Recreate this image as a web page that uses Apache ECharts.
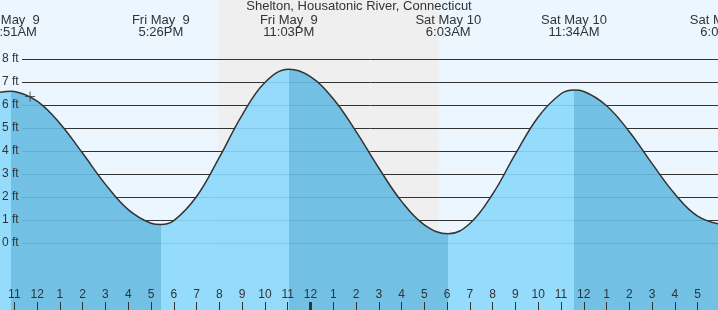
<!DOCTYPE html>
<html lang="en">
<head>
    <meta charset="UTF-8">
    <title>Shelton, Housatonic River, Connecticut</title>
    <style>
        html, body { margin: 0; padding: 0; }
        #container { width: 718px; height: 310px; }
    </style>
</head>
<body>
    <div id="container"></div>
    <script src="https://cdn.jsdelivr.net/npm/echarts@6/dist/echarts.min.js"></script>
    <script>
        // hours counted from Fri May 9 00:00, heights in feet
        const tideHours = [10.37, 10.85, 11, 12, 13, 14, 15, 16, 17, 17.43, 18, 19, 20, 21, 22, 23.05,
            24, 25, 26, 27, 28, 29, 30.05, 31, 32, 33, 34, 35, 35.57, 36, 37, 38, 39, 40, 41, 42.1];
        const tideFeet = [6.55, 6.6, 6.59, 6.17, 5.2, 3.9, 2.55, 1.45, 0.86, 0.8, 0.97, 2.02, 3.72, 5.56, 6.98, 7.55,
            7.23, 6.27, 4.85, 3.26, 1.81, 0.79, 0.4, 0.85, 2.13, 3.87, 5.48, 6.49, 6.65, 6.59, 5.97, 4.84, 3.45, 2.13, 1.17, 0.8];

        // high / low tides
        const extremeHours = [10.85, 17.43, 23.05, 30.05, 35.57, 42.1];
        const extremeFeet = [6.6, 0.8, 7.55, 0.4, 6.65, 0.8];
        const extremeDays = ['Fri May  9', 'Fri May  9', 'Fri May  9', 'Sat May 10', 'Sat May 10', 'Sat May 10'];
        const extremeTimes = ['10:51AM', '5:26PM', '11:03PM', '6:03AM', '11:34AM', '6:06PM'];

        const nightStart = 19.95, nightEnd = 29.65;
        const nowHour = 11.69, nowFeet = 6.37;

        const hourTicks = [];
        for (let h = 11; h <= 41; h++) hourTicks.push(h);
        const midnight = 24;
        const feetTicks = [0, 1, 2, 3, 4, 5, 6, 7, 8];

        // axis extents (chosen so the plot fills the whole picture)
        const xMin = 10.37, xMax = 42.2;
        const yMin = -67 / 23, yMax = 243 / 23;
        const gridStartHour = 11.336;   // horizontal lines start right of the "ft" labels

        const text = '#333';
        const font = 'Liberation Sans';

        // rising tide = light, falling tide = dark
        const pieces = [];
        for (let i = 0; i <= extremeHours.length; i++) {
            const lo = i === 0 ? -Infinity : extremeHours[i - 1];
            const hi = i === extremeHours.length ? Infinity : extremeHours[i];
            let falling;
            if (i === 0) falling = false;
            else if (i === extremeHours.length) falling = extremeFeet[i - 1] > 4;
            else falling = extremeFeet[i] < extremeFeet[i - 1];
            const p = { color: falling ? '#65bbe2' : '#8cd8fc' };
            if (lo !== -Infinity) p.gte = lo;
            if (hi !== Infinity) p.lt = hi;
            pieces.push(p);
        }

        const tideData = tideHours.map((h, i) => [h, tideFeet[i]]);

        function extremeLabel(v) {
            const i = extremeHours.findIndex(h => Math.abs(h - v) < 1e-6);
            return i < 0 ? '' : extremeDays[i] + '\n' + extremeTimes[i];
        }
        function hourLabel(v) {
            const h = Math.round(v) % 12;
            return String(h === 0 ? 12 : h);
        }

        const option = {
            animation: false,
            backgroundColor: '#ebf6fe',
            textStyle: { fontFamily: font },
            title: {
                text: 'Shelton, Housatonic River, Connecticut',
                left: 'center',
                top: 0,
                padding: 0,
                textStyle: { fontSize: 13, fontWeight: 'normal', color: text, fontFamily: font }
            },
            grid: { left: 0, right: -7, top: 0, bottom: 0, containLabel: false, outerBoundsMode: 'none' },
            xAxis: [
                {
                    type: 'value', min: xMin, max: xMax, position: 'bottom', z: 10,
                    axisLine: { show: false, onZero: false },
                    splitLine: { show: false },
                    axisTick: { inside: true, length: 8, customValues: hourTicks, lineStyle: { color: text } },
                    axisLabel: { inside: true, margin: 9, customValues: hourTicks, formatter: hourLabel,
                        hideOverlap: false, fontSize: 12, color: text, fontFamily: font }
                },
                {
                    type: 'value', min: xMin, max: xMax, position: 'top', z: 10,
                    axisLine: { show: false, onZero: false },
                    splitLine: { show: false },
                    axisTick: { show: false },
                    axisLabel: { inside: true, margin: 14, customValues: extremeHours, formatter: extremeLabel,
                        hideOverlap: false, fontSize: 13, lineHeight: 12, color: text, fontFamily: font }
                }
            ],
            yAxis: {
                type: 'value', min: yMin, max: yMax, z: 10,
                axisLine: { show: false, onZero: false },
                axisTick: { show: false },
                splitLine: { show: false },
                axisLabel: { inside: true, margin: 2, customValues: feetTicks, formatter: v => v + ' ft',
                    fontSize: 12, color: text, fontFamily: font }
            },
            visualMap: {
                show: false,
                type: 'piecewise',
                seriesIndex: 1,
                dimension: 0,
                pieces: pieces
            },
            series: [
                {
                    // night shading + feet lines, behind the water
                    type: 'line', z: 1, silent: true,
                    data: [[xMin, yMin]], symbol: 'none', lineStyle: { opacity: 0 },
                    markArea: {
                        silent: true, z: 1,
                        itemStyle: { color: '#efefef' },
                        data: [[{ xAxis: nightStart }, { xAxis: nightEnd }]]
                    },
                    markLine: {
                        silent: true, z: 1, symbol: ['none', 'none'], label: { show: false },
                        lineStyle: { color: text, width: 1, type: 'solid' },
                        data: feetTicks.map(v => [{ coord: [gridStartHour, v] }, { coord: [xMax, v] }])
                    }
                },
                {
                    // water
                    type: 'line', z: 2, silent: true,
                    data: tideData, smooth: 0.4, symbol: 'none',
                    lineStyle: { width: 0 },
                    areaStyle: { origin: 'start', opacity: 0.9 }
                },
                {
                    // tide curve
                    type: 'line', z: 3, silent: true,
                    data: tideData, smooth: 0.4, symbol: 'none',
                    lineStyle: { color: text, width: 1.5 },
                    markLine: {
                        silent: true, z: 11, symbol: ['none', 'none'], label: { show: false },
                        lineStyle: { color: text, width: 3, type: 'solid' },
                        data: [[{ coord: [midnight, yMin] }, { coord: [midnight, yMin + 8 / 23] }]]
                    }
                },
                {
                    // current time
                    type: 'scatter', z: 4, silent: true,
                    data: [[nowHour, nowFeet]],
                    symbol: 'path://M4.5,0h1v4.5h4.5v1h-4.5v4.5h-1v-4.5h-4.5v-1h4.5z',
                    symbolSize: 10,
                    itemStyle: { color: text }
                }
            ]
        };

        const chart = echarts.init(document.getElementById('container'));
        chart.setOption(option);
    </script>
</body>
</html>
